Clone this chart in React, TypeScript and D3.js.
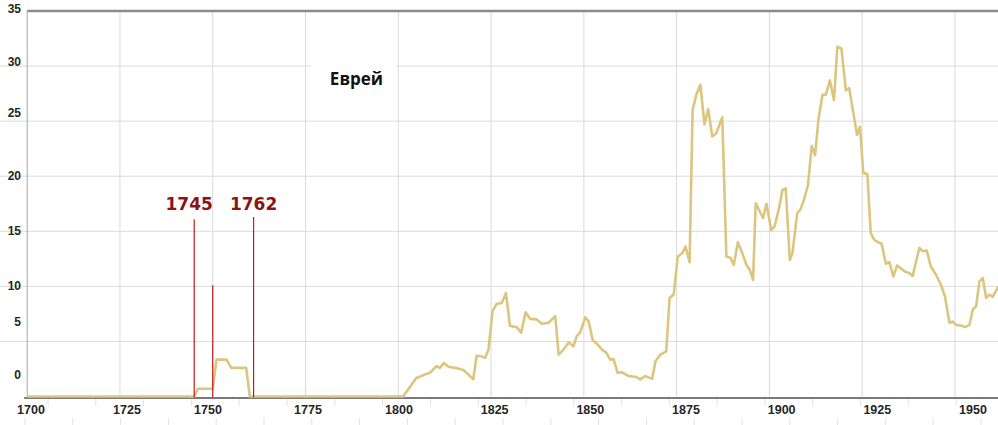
import React from "react";
import * as d3 from "d3";

// ---- data ----
const years: number[] = [
  1700, 1745, 1746, 1750, 1751, 1753.7, 1755, 1759, 1760, 1801.3,
  1804.9, 1805.8, 1807.2, 1808.5, 1810.3, 1811.2, 1812.3, 1813.5, 1815.3, 1817.5,
  1818.9, 1820.2, 1821.1, 1822.5, 1823.4, 1824.3, 1825.4, 1826.5, 1827.9, 1829.0,
  1830.1, 1831.9, 1833.1, 1834.3, 1835.5, 1837.3, 1838.7, 1840.5, 1842.3, 1843.2,
  1844.5, 1845.9, 1847.2, 1848.1, 1849.0, 1850.4, 1851.3, 1852.4, 1853.5, 1854.9,
  1856.0, 1857.1, 1858.0, 1859.1, 1860.3, 1862.1, 1863.9, 1865.2, 1866.6, 1868.4,
  1869.3, 1870.6, 1872.2, 1873.1, 1874.2, 1875.3, 1876.5, 1877.4, 1878.5, 1879.3,
  1880.3, 1881.4, 1882.5, 1883.5, 1884.6, 1885.7, 1887.3, 1888.4, 1889.5, 1890.4,
  1891.5, 1892.7, 1893.8, 1894.7, 1895.6, 1896.3, 1897.4, 1898.3, 1899.2, 1900.5,
  1901.4, 1902.6, 1903.5, 1904.4, 1905.5, 1906.2, 1907.5, 1908.4, 1909.3, 1910.4,
  1911.4, 1912.3, 1913.2, 1914.3, 1915.2, 1916.3, 1917.4, 1918.3, 1919.4, 1920.6,
  1921.5, 1922.4, 1923.6, 1924.4, 1925.3, 1926.4, 1927.3, 1928.2, 1929.3, 1930.2,
  1931.4, 1932.3, 1933.4, 1934.4, 1935.4, 1936.5, 1937.7, 1938.6, 1940.4, 1941.3,
  1942.4, 1943.5, 1944.9, 1946.2, 1947.3, 1948.5, 1949.4, 1950.3, 1951.6, 1952.7,
  1953.9, 1954.8, 1955.7, 1956.6, 1957.5, 1958.4, 1959.3, 1960.2, 1961.7,
];
const values: number[] = [
  0, 0, 0.7, 0.7, 3.35, 3.35, 2.6, 2.6, 0, 0,
  1.7, 1.8, 2.0, 2.15, 2.75, 2.6, 3.05, 2.7, 2.6, 2.4,
  2.0, 1.55, 3.7, 3.65, 3.5, 4.25, 7.75, 8.4, 8.5, 9.4,
  6.4, 6.3, 5.8, 7.65, 7.05, 7.0, 6.6, 6.7, 7.3, 3.8,
  4.25, 4.9, 4.55, 5.5, 5.8, 7.2, 6.8, 5.1, 4.8, 4.25,
  4.0, 3.35, 3.4, 2.15, 2.2, 1.85, 1.8, 1.55, 1.85, 1.6,
  3.2, 3.8, 4.1, 8.95, 9.25, 12.7, 13.0, 13.6, 12.2, 26.0,
  27.4, 28.3, 24.7, 26.1, 23.6, 23.9, 25.35, 12.7, 12.6, 11.95,
  14.0, 13.0, 11.95, 11.5, 10.6, 17.55, 16.8, 16.2, 17.5, 15.1,
  15.45, 17.1, 18.75, 18.9, 12.4, 13.0, 16.65, 17.0, 17.85, 19.2,
  22.75, 21.9, 25.1, 27.4, 27.4, 28.7, 26.9, 31.75, 31.6, 27.8,
  28.0, 26.2, 23.75, 24.5, 20.3, 20.2, 14.85, 14.25, 14.0, 13.9,
  12.05, 12.2, 10.9, 11.9, 11.65, 11.35, 11.2, 10.95, 13.5, 13.2,
  13.25, 11.8, 11.05, 10.15, 9.1, 6.7, 6.8, 6.5, 6.45, 6.3,
  6.5, 7.9, 8.2, 10.45, 10.75, 8.95, 9.25, 9.05, 10.0,
];
const xTickYears: number[] = [1700, 1725, 1750, 1775, 1800, 1825, 1850, 1875, 1900, 1925, 1950];
const yTicks: number[] = [0, 5, 10, 15, 20, 25, 30, 35];
const seriesTitle = "Еврей";
const markerLabels: string[] = ["1745", "1762"];
const markerYears: number[] = [1745, 1761];
const markerLineTops: number[] = [16.1, 16.3];
const midMarkerYear = 1750;
const midMarkerTop = 10.1;

const W = 998;
const H = 425;

export default function App() {
  const x = d3.scaleLinear().domain([1700, 1962]).range([27.2, 999.5]);
  const y = d3.scaleLinear().domain([0, 35]).range([396.5, 11]);
  // tick labels in the picture drift relative to the gridlines
  const xLabel = d3
    .scaleLinear()
    .domain([1700, 1725, 1750, 1775, 1800, 1950])
    .range([31, 127, 208, 308, 399, 973]);
  const yLabelShift = (v: number) => (v === 0 ? -18 : v === 5 ? -15 : v === 35 ? 2 : v === 30 ? 0 : v === 25 ? -4 : 4);

  const pts = years.map((yr, i) => [yr, values[i]] as [number, number]);
  const line = d3
    .line<[number, number]>()
    .x((d) => x(d[0]))
    .y((d) => y(d[1]));

  const lowerTicks = d3.range(0, 21).map((i) => 25 + i * 47.8);
  const upperTicks = d3.range(0, 21).map((i) => 48 + i * 47.8);

  const labelFont = "'Liberation Sans', Arial, sans-serif";

  return (
    <svg
      width={W}
      height={H}
      style={{ position: "absolute", left: 0, top: 0, background: "#fff" }}
    >
      <rect x={0} y={0} width={W} height={H} fill="#fff" />
      {/* horizontal gridlines */}
      {yTicks
        .filter((v) => v > 0 && v < 35)
        .map((v) => (
          <line key={"h" + v} x1={0} x2={W} y1={y(v)} y2={y(v)} stroke="#dadada" strokeWidth={1} />
        ))}
      {/* vertical gridlines */}
      {xTickYears
        .filter((yr) => yr > 1700)
        .map((yr) => (
          <line key={"v" + yr} x1={x(yr)} x2={x(yr)} y1={y(35)} y2={y(0)} stroke="#dadada" strokeWidth={1} />
        ))}
      {/* faint ticks below axis */}
      {upperTicks.map((t, i) => (
        <line key={"ut" + i} x1={t} x2={t} y1={399} y2={406} stroke="#e2e2e2" strokeWidth={1} />
      ))}
      {lowerTicks.map((t, i) => (
        <line key={"lt" + i} x1={t} x2={t} y1={418} y2={425} stroke="#e2e2e2" strokeWidth={1} />
      ))}
      {/* white box behind title */}
      <rect x={311} y={48} width={85} height={60} fill="#fff" />
      <text
        x={356.5}
        y={85}
        textAnchor="middle"
        fontFamily="'Open Sans', 'DejaVu Sans', sans-serif"
        fontWeight={700}
        fontSize={17}
        fill="#111"
      >
        {seriesTitle}
      </text>
      {/* axes / frame */}
      <line x1={x(1700)} x2={W} y1={y(35)} y2={y(35)} stroke="#8c8c8c" strokeWidth={2.5} />
      <line x1={x(1700)} x2={x(1700)} y1={y(35)} y2={y(0) + 1} stroke="#a6a6a6" strokeWidth={1} />
      <line x1={x(1700) - 3} x2={W} y1={y(0) + 1.5} y2={y(0) + 1.5} stroke="#7a7a7a" strokeWidth={2} />
      {/* data line */}
      <path d={line(pts) || ""} fill="none" stroke="#dcc67f" strokeWidth={2.6} strokeLinejoin="round" />
      {/* red markers */}
      {markerYears.map((yr, i) => (
        <line key={"m" + i} x1={x(yr)} x2={x(yr)} y1={y(markerLineTops[i])} y2={y(0) + 1} stroke="#c8161b" strokeWidth={1.2} />
      ))}
      <line x1={x(midMarkerYear)} x2={x(midMarkerYear)} y1={y(midMarkerTop)} y2={y(0) + 1} stroke="#c8161b" strokeWidth={1.2} />
      {markerLabels.map((lab, i) => (
        <text
          key={"ml" + i}
          x={x(markerYears[i]) + (i === 0 ? -5 : 0)}
          y={209.5}
          textAnchor="middle"
          fontFamily="'DejaVu Sans', sans-serif"
          fontWeight={700}
          fontSize={17}
          fill="#8b1414"
        >
          {lab}
        </text>
      ))}
      {/* y tick labels */}
      {yTicks.map((v) => (
        <text
          key={"yl" + v}
          x={21}
          y={y(v) + yLabelShift(v)}
          textAnchor="end"
          fontFamily={labelFont}
          fontWeight={700}
          fontSize={12}
          fill="#262626"
        >
          {v}
        </text>
      ))}
      {/* x tick labels */}
      {xTickYears.map((yr) => (
        <text
          key={"xl" + yr}
          x={xLabel(yr)}
          y={413.5}
          textAnchor="middle"
          fontFamily={labelFont}
          fontWeight={700}
          fontSize={12.5}
          fill="#262626"
        >
          {yr}
        </text>
      ))}
    </svg>
  );
}
